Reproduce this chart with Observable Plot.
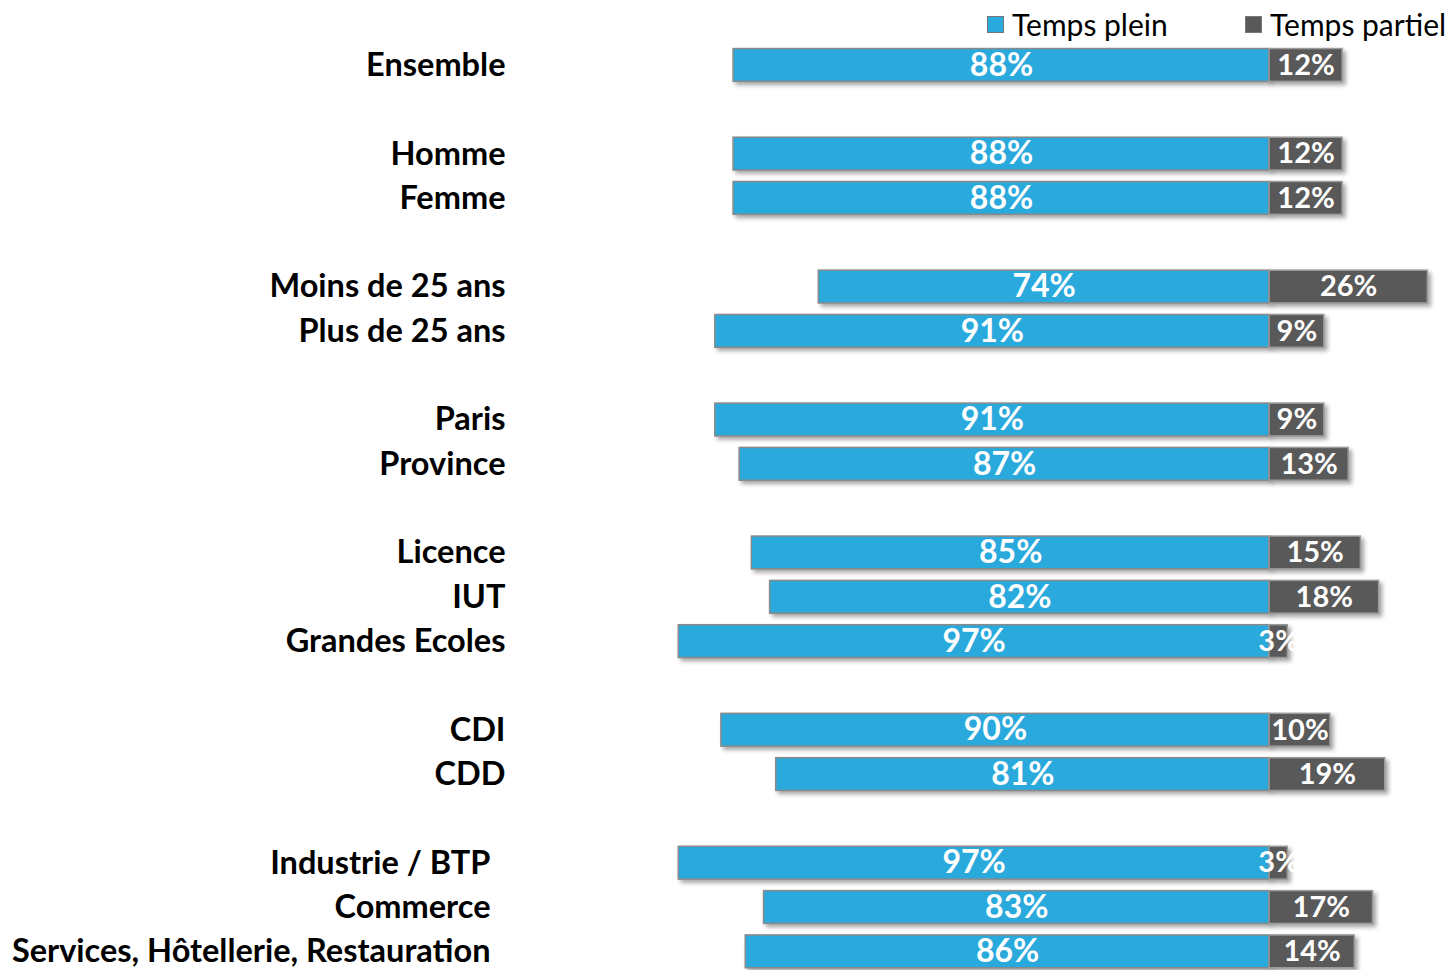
<!DOCTYPE html>
<html><head><meta charset="utf-8">
<script src="https://cdn.jsdelivr.net/npm/d3@7"></script>
<script src="https://cdn.jsdelivr.net/npm/@observablehq/plot@0.6"></script>
<style>
body{margin:0;background:#fff;font-family:Lato,sans-serif;}
#legend{position:relative;height:40px;width:1450px;}
.item{position:absolute;top:4px;height:40px;display:flex;align-items:center;font-size:30px;color:#000;white-space:nowrap;}
.sw{width:15px;height:15px;margin-right:8px;border:1px solid #777;}
.bars{filter:drop-shadow(3px 3px 2px rgba(0,0,0,0.35));}
</style>
</head><body>
<div id="legend"></div>
<div id="chart"></div>
<script>
const groups = [
  ["Ensemble"],
  ["Homme", "Femme"],
  ["Moins de 25 ans", "Plus de 25 ans"],
  ["Paris", "Province"],
  ["Licence", "IUT", "Grandes Ecoles"],
  ["CDI", "CDD"],
  ["Industrie / BTP", "Commerce", "Services, Hôtellerie, Restauration"]
];
const categories = groups.flat();
const tempsPlein =   [88, 88, 88, 74, 91, 91, 87, 85, 82, 97, 90, 81, 97, 83, 86];
const tempsPartiel = [12, 12, 12, 26,  9,  9, 13, 15, 18,  3, 10, 19,  3, 17, 14];
const seriesNames = ["Temps plein", "Temps partiel"];
const colors = ["#29A9DC", "#595959"];

const data = categories.map((c, i) => ({cat: c, plein: tempsPlein[i], partiel: tempsPartiel[i]}));

// y domain with blank spacer rows between groups
const domain = [];
groups.forEach((g, i) => {
  g.forEach(c => domain.push(c));
  if (i < groups.length - 1) domain.push(`__gap${i}`);
});
const lastGroup = groups[groups.length - 1];
const mainLabels = categories.filter(c => !lastGroup.includes(c));

const font = "Lato, 'Open Sans', sans-serif";

const chart = Plot.plot({
  width: 1450,
  height: 930,
  marginLeft: 660,
  marginRight: 0,
  marginTop: 0,
  marginBottom: 0,
  style: {fontFamily: font, background: "#fff", color: "#000"},
  x: {domain: [-100, 29.72], axis: null},
  y: {domain, range: [2.8, 933.5], paddingInner: 0.26, paddingOuter: 0.13, round: false, axis: null},
  marks: [
    Plot.barX(data, {x1: 0, x2: d => -d.plein, y: "cat", fill: colors[0], stroke: "#8a8a8a", strokeWidth: 1.5, className: "bars"}),
    Plot.barX(data, {x1: 0, x2: d => d.partiel, y: "cat", fill: colors[1], stroke: "#9a9a9a", strokeWidth: 1.5, className: "bars"}),
    Plot.text(data, {x: d => -d.plein / 2, y: "cat", text: d => d.plein + "%", fill: "#fff", fontSize: 32, fontWeight: "bold", fontFamily: font}),
    Plot.text(data, {x: d => d.partiel / 2, y: "cat", text: d => d.partiel + "%", fill: "#fff", fontSize: 29, fontWeight: "bold", fontFamily: font}),
    Plot.axisY(mainLabels, {anchor: "left", tickSize: 0, tickPadding: 155, label: null, fontSize: 32.5, fontWeight: "bold", fontFamily: font, fill: "#000"}),
    Plot.axisY(lastGroup, {anchor: "left", tickSize: 0, tickPadding: 170, label: null, fontSize: 32.5, fontWeight: "bold", fontFamily: font, fill: "#000"})
  ]
});
document.getElementById("chart").appendChild(chart);

const legend = document.getElementById("legend");
const legendLeft = [987, 1245];
seriesNames.forEach((name, i) => {
  const item = document.createElement("div");
  item.className = "item";
  item.style.left = legendLeft[i] + "px";
  item.innerHTML = `<span class="sw" style="background:${colors[i]}"></span><span>${name}</span>`;
  legend.appendChild(item);
});
</script>
</body></html>
